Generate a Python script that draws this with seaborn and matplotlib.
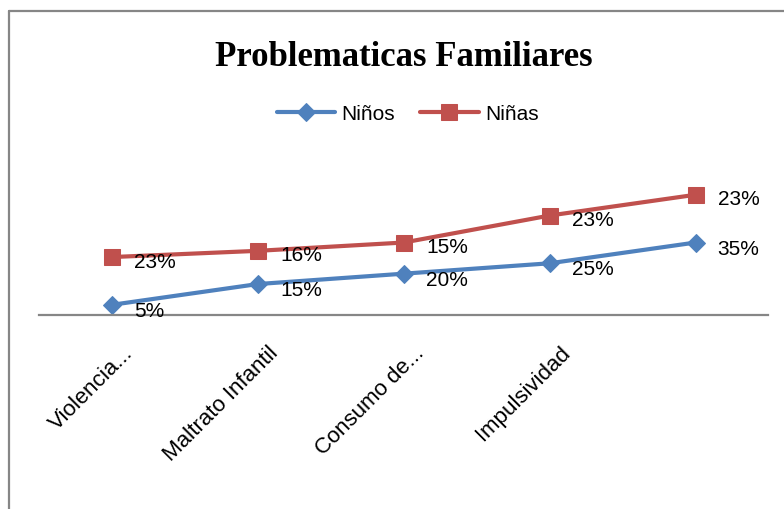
import numpy as np
import matplotlib
matplotlib.use("Agg")
import matplotlib.pyplot as plt
import matplotlib.transforms as mtransforms
import seaborn as sns
from matplotlib.lines import Line2D

# ==============================
# DATA
# ==============================

categorias = ["Violencia...", "Maltrato Infantil", "Consumo de...", "Impulsividad", ""]
ninos = [5, 15, 20, 25, 35]
ninas = [23, 16, 15, 23, 23]

AZUL = "#4F81BD"
ROJO = "#C0504D"
BORDE = "#868686"

# stacked line chart (Excel style): second series sits on top of the first
x = np.arange(len(categorias))
ninos_acum = np.array(ninos)
ninas_acum = ninos_acum + np.array(ninas)

# ==============================
# FIGURE
# ==============================

sns.set_style("white")
plt.rcParams['font.family'] = ['Liberation Sans Narrow', 'Liberation Sans', 'DejaVu Sans']
plt.rcParams['text.color'] = 'black'
plt.rcParams['xtick.color'] = 'black'

fig = plt.figure(figsize=(7.84, 5.10), dpi=100)
ax = fig.add_axes([0.0497, 0.380, 0.9305, 0.285])

# outer chart border (only left and top edges are visible, rest is cropped)
fig.lines.append(Line2D([9 / 784, 9 / 784], [0, 1 - 11.5 / 510], transform=fig.transFigure,
                        color=BORDE, linewidth=1.6))
fig.lines.append(Line2D([9 / 784, 1], [1 - 11.5 / 510, 1 - 11.5 / 510], transform=fig.transFigure,
                        color=BORDE, linewidth=1.6))

sns.lineplot(x=x, y=ninos_acum, ax=ax, color=AZUL, linewidth=3,
             marker="D", markersize=9, markeredgecolor=AZUL, label="Niños")
sns.lineplot(x=x, y=ninas_acum, ax=ax, color=ROJO, linewidth=3,
             marker="s", markersize=11, markeredgecolor=ROJO, label="Niñas")

for xi, yi, v in zip(x, ninos_acum, ninos):
    ax.annotate(f"{v}%", (xi, yi), xytext=(16, -4), textcoords="offset points",
                ha="left", va="center", fontsize=15, color="black")
for xi, yi, v in zip(x, ninas_acum, ninas):
    ax.annotate(f"{v}%", (xi, yi), xytext=(16, -3), textcoords="offset points",
                ha="left", va="center", fontsize=15, color="black")

ax.set_xlim(-0.5, 4.5)
ax.set_ylim(0, 70)
ax.set_yticks([])
ax.set_xticks(x)
ax.set_xticklabels(categorias, rotation=45, ha="right", rotation_mode="anchor",
                   fontsize=16)
ax.tick_params(axis="x", length=0, pad=6)
ax.set_xlabel("")
ax.set_ylabel("")

# nudge the rotated category labels like Excel places them
desplazar = mtransforms.ScaledTranslation(10 / 100, -18 / 100, fig.dpi_scale_trans)
for lbl in ax.get_xticklabels():
    lbl.set_transform(lbl.get_transform() + desplazar)

for s in ["top", "left", "right"]:
    ax.spines[s].set_visible(False)
ax.spines["bottom"].set_color(BORDE)
ax.spines["bottom"].set_linewidth(1.6)

ax.legend(loc="center", bbox_to_anchor=(0.52, 1 - 115 / 510),
          bbox_transform=fig.transFigure, ncol=2, frameon=False,
          fontsize=15, handlelength=2.8, columnspacing=1.2, handletextpad=0.3)

fig.text(0.515, 1 - 57 / 510, "Problematicas Familiares", ha="center", va="center",
         fontsize=25, fontweight="bold", color="black",
         family=["Liberation Serif", "DejaVu Serif"])

plt.savefig("out.png", dpi=100)
plt.close()
